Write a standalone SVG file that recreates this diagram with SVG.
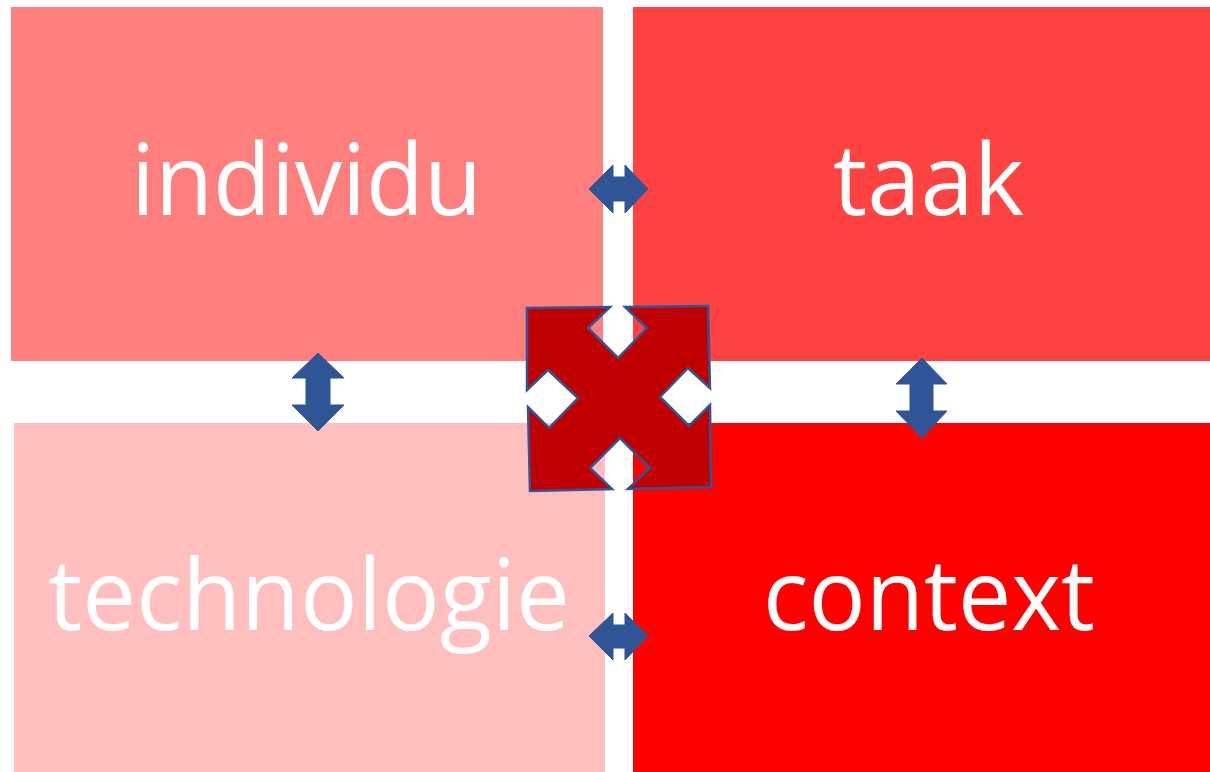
<svg xmlns="http://www.w3.org/2000/svg" width="1210" height="772" viewBox="0 0 1210 772">
<style>
.lbl{font-family:"Open Sans","Noto Sans",sans-serif;font-size:98px;fill:#ffffff}
.arr{fill:#2F5597;stroke:#2F5597;stroke-width:1}
</style>
<rect width="1210" height="772" fill="#ffffff"/>
<g id="individu">
<rect x="11" y="7" width="592" height="354" fill="#FF7F7F"/>
<text class="lbl" x="131" y="215" textLength="351" lengthAdjust="spacingAndGlyphs">individu</text>
</g>
<g id="taak">
<rect x="633" y="7" width="577" height="354" fill="#FF4343"/>
<text class="lbl" x="833" y="215" textLength="191" lengthAdjust="spacingAndGlyphs">taak</text>
</g>
<g id="technologie">
<rect x="14" y="423" width="591" height="349" fill="#FFBFBF"/>
<text class="lbl" x="48" y="630" textLength="522" lengthAdjust="spacingAndGlyphs">technologie</text>
</g>
<g id="context">
<rect x="633" y="423" width="577" height="349" fill="#FF0000"/>
<text class="lbl" x="763" y="630" textLength="332" lengthAdjust="spacingAndGlyphs">context</text>
</g>
<g id="center">
<polygon points="527,308 610,307 588,328 618,358 647,328 625,307 708,306 710,388 688,368 660,397 689,426 710,405 711,487 628,489 650,468 620,438 590,468 612,489 530,491 528,407 549,428 578,398 548,370 527,390" fill="#C00000" stroke="#2F5597" stroke-width="2.5" stroke-linejoin="miter"/>
</g>
<g id="connectors">
<polygon class="arr" points="589,189 613,165 613,177 625,177 625,165 648,189 625,213 625,201 613,201 613,213"/>
<polygon class="arr" points="589,636 613,613 613,625 625,625 625,613 648,636 625,660 625,648 613,648 613,660"/>
<polygon class="arr" points="318,353 344,378 330,378 330,405 344,405 318,431 292,405 306,405 306,378 292,378"/>
<polygon class="arr" points="922,358 947,384 933,384 933,411 947,411 922,438 896,411 910,411 910,384 896,384"/>
</g>
</svg>
